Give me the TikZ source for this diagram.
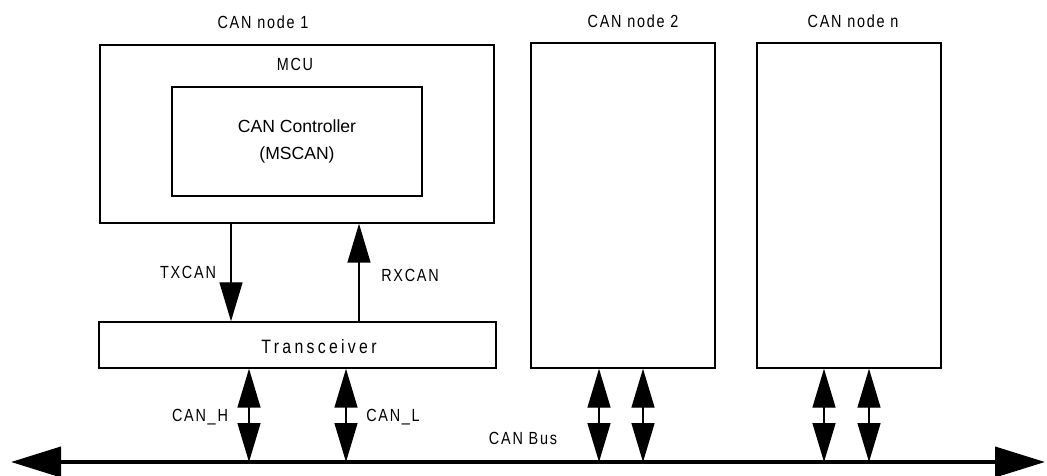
\documentclass[tikz,border=0pt]{standalone}
\usepackage{fontspec}
\setmainfont{Liberation Sans}
\newfontfamily\lblfont[FakeStretch=0.82,LetterSpace=10]{Liberation Sans}
\newfontfamily\widefont[FakeStretch=0.82,LetterSpace=17]{Liberation Sans}
\usepackage{tikz}
\usetikzlibrary{arrows.meta,positioning}

\begin{document}
\begin{tikzpicture}[
  blk/.style={draw,line width=0.8pt,inner sep=0pt},
  lbl/.style={font=\lblfont\fontsize{10}{12}\selectfont,inner sep=1pt},
  sig/.style={line width=0.8pt,-{Triangle[length=0.78cm,width=0.46cm]}},
  bidir/.style={line width=0.8pt,{Triangle[length=0.78cm,width=0.46cm]}-{Triangle[length=0.78cm,width=0.46cm]}},
  bus/.style={line width=2.3pt,{Triangle[length=1.0cm,width=0.6cm]}-{Triangle[length=1.0cm,width=0.6cm]}}
]
\useasboundingbox (0,0) rectangle (20.94,9.5);

% CAN node 1
\node[blk,minimum width=7.88cm,minimum height=3.56cm] (mcu) at (5.94,6.82) {};
\node[blk,minimum width=5.0cm,minimum height=2.18cm,align=center,
      font=\fontsize{10}{15.5}\selectfont] (ctrl) at (5.94,6.67)
  {CAN Controller\\(MSCAN)};
\node[lbl] (mculbl) at (5.9,8.22) {MCU};
\node[lbl] (n1lbl) at (5.26,9.06) {CAN node 1};
\node[blk,minimum width=7.94cm,minimum height=0.92cm] (xcvr) at (5.95,2.6) {};
\node[font=\widefont\fontsize{11}{13}\selectfont] (xcvrlbl) at (6.38,2.56) {Transceiver};

% CAN node 2 and n
\node[blk,minimum width=3.68cm,minimum height=6.5cm] (ntwo) at (12.46,5.39) {};
\node[blk,minimum width=3.68cm,minimum height=6.5cm] (nn) at (16.98,5.39) {};
\node[lbl] (n2lbl) at (12.66,9.08) {CAN node 2};
\node[lbl] (nnlbl) at (17.06,9.08) {CAN node n};

% Bus
\coordinate (busL) at (0.22,0.26);
\coordinate (busR) at (20.9,0.26);
\draw[bus] (busL) -- (busR);
\node[lbl] (buslbl) at (10.46,0.74) {CAN Bus};

% TXCAN / RXCAN
\coordinate (tx) at (4.62,0);
\coordinate (rx) at (7.18,0);
\draw[sig] (mcu.south -| tx) -- (xcvr.north -| tx);
\draw[sig] (xcvr.north -| rx) -- (mcu.south -| rx);
\node[lbl] (txlbl) at (3.76,4.06) {TXCAN};
\node[lbl] (rxlbl) at (8.2,4.0) {RXCAN};

% CAN_H / CAN_L
\coordinate (canh) at (4.98,0.26);
\coordinate (canl) at (6.92,0.26);
\draw[bidir] (xcvr.south -| canh) -- (canh);
\draw[bidir] (xcvr.south -| canl) -- (canl);
\node[lbl] (hlbl) at (4.0,1.16) {CAN\_H};
\node[lbl] (llbl) at (7.86,1.16) {CAN\_L};

% Bus taps of the other nodes
\foreach \x in {11.98,12.86} \draw[bidir] (ntwo.south -| \x,0) -- (\x,0.26);
\foreach \x in {16.48,17.38} \draw[bidir] (nn.south -| \x,0) -- (\x,0.26);
\end{tikzpicture}
\end{document}
